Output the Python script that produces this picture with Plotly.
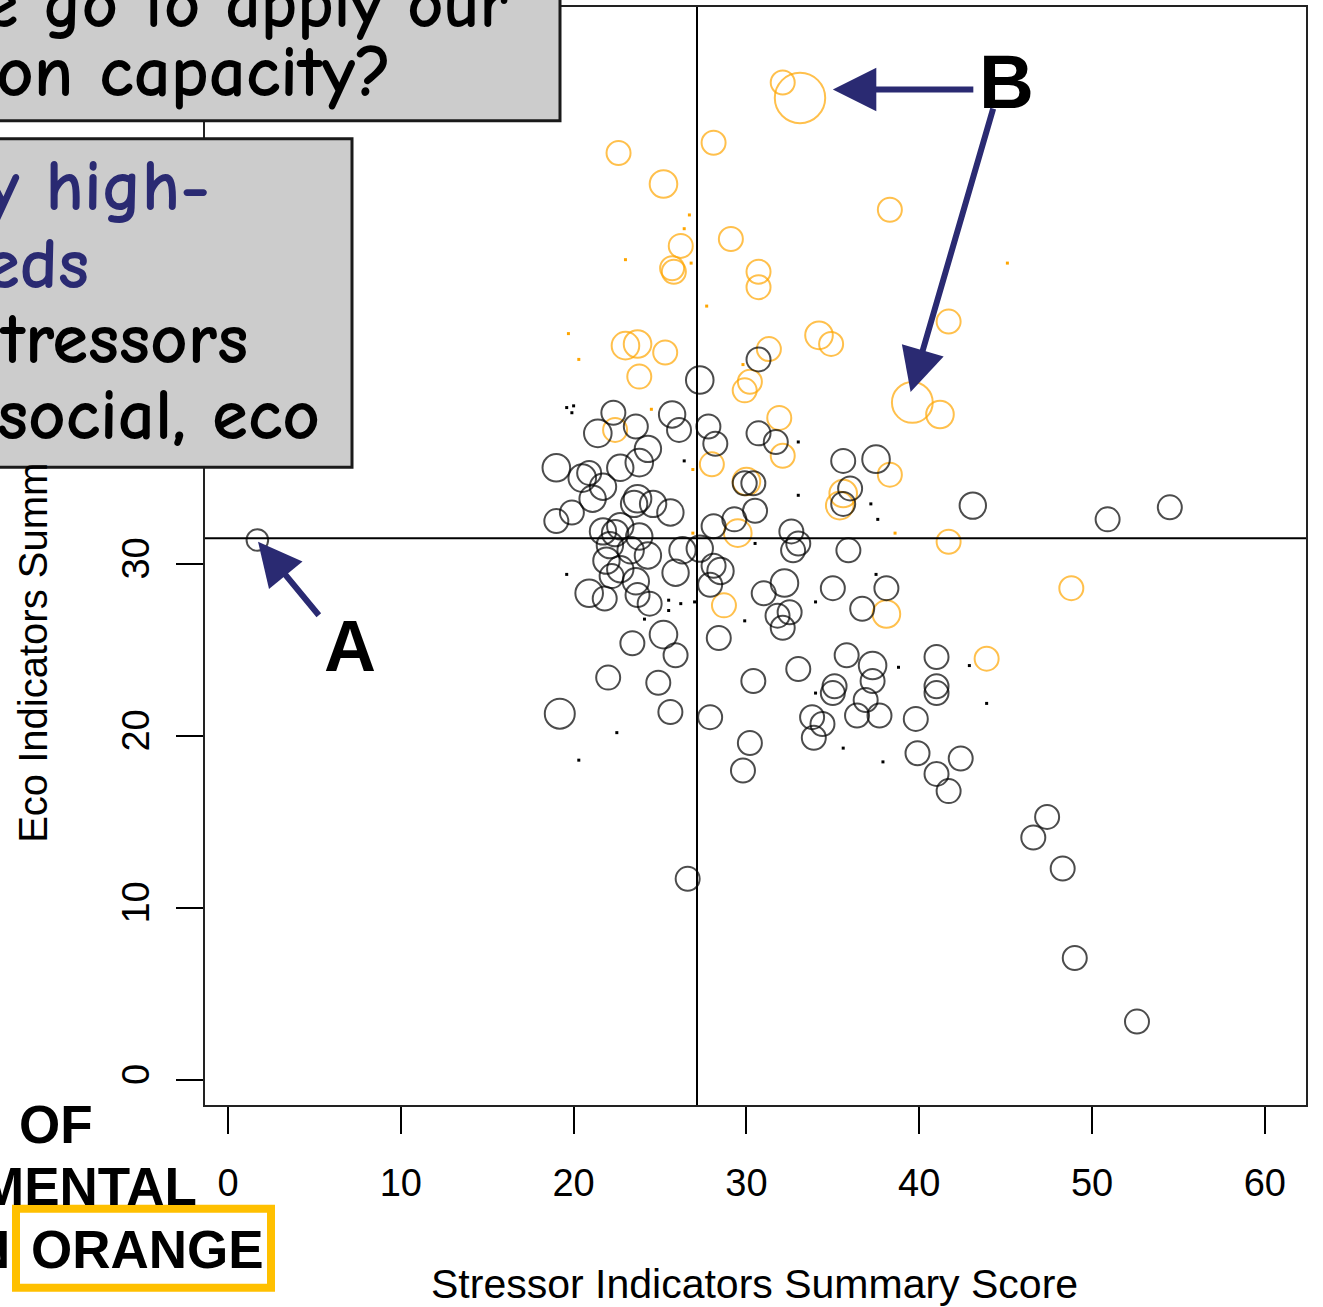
import plotly.graph_objects as go

# ---------------- data ----------------
orange_x = [32.1, 33.1, 22.6, 28.1, 25.2, 38.3, 29.1, 26.2, 25.7, 25.8, 30.7, 30.7,
            23.0, 23.7, 25.3, 23.8, 34.2, 34.9, 31.3, 41.7, 30.2, 29.9, 39.6, 41.2,
            31.9, 22.4, 32.1, 28.0, 38.3, 30.0, 35.6, 35.4, 29.5, 41.7, 28.7, 38.1,
            48.8, 43.9]
orange_y = [58.0, 57.1, 53.9, 54.5, 52.1, 50.6, 48.9, 48.5, 47.2, 47.0, 47.0, 46.1,
            42.7, 42.8, 42.3, 40.9, 43.3, 42.8, 42.5, 44.1, 40.6, 40.1, 39.4, 38.7,
            38.5, 37.8, 36.3, 35.8, 35.2, 34.8, 34.1, 33.4, 31.8, 31.3, 27.6, 27.1,
            28.6, 24.5]
orange_w = [1.0, 2.1, 1.0, 1.0, 1.15, 1.0, 1.0, 1.0, 1.0, 1.0, 1.0, 1.0,
            1.15, 1.15, 1.0, 1.0, 1.15, 1.0, 1.0, 1.0, 1.0, 1.0, 1.7, 1.15,
            1.0, 1.0, 1.0, 1.0, 1.0, 1.15, 1.15, 1.15, 1.15, 1.0, 1.0, 1.15,
            1.0, 1.0]

orange_dot_x = [19.7, 20.3, 23.0, 26.8, 27.7, 26.7, 26.4, 45.1, 24.5, 29.8, 26.9, 38.6, 26.9]
orange_dot_y = [43.4, 41.9, 47.7, 47.5, 45.0, 50.3, 49.5, 47.5, 39.0, 41.6, 35.5, 31.8, 31.8]

black_x = [1.7, 27.3, 30.7, 22.3, 21.4, 23.6, 25.7, 26.1, 24.3, 23.8, 22.7, 19.0,
           20.5, 20.9, 21.7, 21.1, 23.5, 23.7, 24.6, 25.6, 19.9, 19.0, 21.7, 22.4,
           22.7, 23.8, 22.1, 23.3, 21.9, 24.3, 22.7, 22.2, 23.6, 20.9, 21.8, 23.7,
           24.4, 25.9, 26.3, 27.3, 28.1, 27.8, 28.2, 30.7, 31.7, 29.9, 30.4, 30.5,
           29.3, 32.6, 33.0, 32.7, 28.5, 27.9, 28.1, 32.2, 31.0, 32.5, 31.8, 32.1,
           35.9, 35.0, 36.7, 38.1, 35.6, 37.5, 36.0, 35.6, 43.1, 50.9, 54.5, 25.2,
           25.9, 23.4, 28.4, 22.0, 24.9, 19.2, 25.6, 27.9, 30.4, 33.0, 30.2, 29.8,
           35.8, 37.3, 37.3, 35.1, 35.0, 36.9, 36.4, 37.7, 33.8, 34.4, 33.9, 41.0,
           41.0, 41.0, 39.8, 39.9, 42.4, 41.0, 41.7, 47.4, 46.6, 48.3, 49.0, 52.6,
           26.6]
black_y = [31.4, 40.7, 41.9, 38.8, 37.6, 38.0, 38.7, 37.8, 36.7, 35.9, 35.6, 35.6,
           35.0, 35.3, 34.5, 33.8, 33.5, 33.8, 33.5, 33.0, 33.0, 32.5, 31.9, 31.8,
           32.2, 31.6, 31.1, 30.8, 30.2, 30.5, 29.7, 29.3, 29.0, 28.3, 28.0, 28.2,
           27.7, 29.5, 30.8, 30.9, 32.2, 38.0, 37.0, 37.6, 37.1, 34.7, 34.7, 33.1,
           32.6, 31.9, 31.2, 30.8, 29.6, 28.8, 29.9, 28.9, 28.3, 27.2, 27.0, 26.3,
           30.8, 28.6, 27.4, 28.6, 36.0, 36.1, 34.4, 33.5, 33.4, 32.6, 33.3, 25.9,
           24.7, 25.4, 25.7, 23.4, 23.1, 21.3, 21.4, 21.1, 23.2, 23.9, 19.6, 18.0,
           24.7, 24.1, 23.2, 22.9, 22.5, 22.1, 21.2, 21.2, 21.1, 20.7, 19.9, 24.6,
           22.9, 22.5, 21.0, 19.0, 18.7, 17.8, 16.8, 15.3, 14.1, 12.3, 7.1, 3.4,
           11.7]
black_w = [0.9, 1.15, 1.0, 1.0, 1.15, 1.0, 1.1, 1.0, 1.1, 1.15, 1.1, 1.15,
           1.15, 1.0, 1.1, 1.1, 1.1, 1.15, 1.1, 1.1, 1.0, 1.0, 1.1, 1.1,
           1.1, 1.1, 1.1, 1.1, 1.1, 1.1, 1.1, 1.0, 1.1, 1.15, 1.0, 1.0,
           1.0, 1.1, 1.1, 1.1, 1.0, 1.0, 1.0, 1.0, 1.0, 1.0, 1.0, 1.0,
           1.0, 1.0, 1.0, 1.0, 1.1, 1.0, 1.0, 1.15, 1.0, 1.0, 1.0, 1.0,
           1.0, 1.0, 1.0, 1.0, 1.0, 1.15, 1.0, 1.0, 1.1, 1.0, 1.0, 1.15,
           1.0, 1.0, 1.0, 1.0, 1.0, 1.25, 1.0, 1.0, 1.0, 1.0, 1.0, 1.0,
           1.0, 1.15, 1.0, 1.0, 1.0, 1.0, 1.0, 1.0, 1.0, 1.0, 1.0, 1.0,
           1.0, 1.0, 1.0, 1.0, 1.0, 1.0, 1.0, 1.0, 1.0, 1.0, 1.0, 1.0,
           1.0]

black_dot_x = [19.6, 20.0, 19.9, 26.4, 33.0, 33.0, 37.2, 37.6, 30.5, 19.6, 25.5, 26.2,
               27.0, 25.5, 24.1, 29.9, 34.0, 37.5, 38.8, 42.9, 43.9, 22.5, 20.3, 35.6,
               37.9, 34.0]
black_dot_y = [39.1, 39.2, 38.8, 36.0, 37.1, 34.0, 33.5, 32.6, 31.2, 29.4, 27.9, 27.7,
               27.8, 27.3, 26.8, 26.7, 27.8, 29.4, 24.0, 24.1, 21.9, 20.2, 18.6, 19.3,
               18.5, 22.5]

x_mean = 27.14
y_mean = 31.5

x_ticks = [0, 10, 20, 30, 40, 50, 60]
y_ticks = [0, 10, 20, 30, 40, 50, 60]

x_title = "Stressor Indicators Summary Score"
y_title_visible = "Eco Indicators Summ"

# ---------------- layout helpers ----------------
W, H = 1323, 1307
ML, MR, MT, MB = 205, 17, 5, 202
PW, PH = W - ML - MR, H - MT - MB


def px(x):
    return (x - ML) / PW


def py(y):
    return (H - MB - y) / PH


BASE = 24
NAVY = "#2a2a72"
ORANGE = "#FFA500"
SANS = "Liberation Sans, Arial"
COMIC = "Comic Sans MS, Comic Neue, Lato, Noto Sans"

fig = go.Figure()

fig.add_trace(go.Scatter(
    x=orange_x, y=orange_y, mode="markers",
    marker=dict(symbol="circle-open", size=[BASE * w for w in orange_w],
                color=ORANGE, line=dict(width=2, color=ORANGE)),
    hoverinfo="skip"))
fig.add_trace(go.Scatter(
    x=orange_dot_x, y=orange_dot_y, mode="markers",
    marker=dict(symbol="square", size=3, color=ORANGE), hoverinfo="skip"))
fig.add_trace(go.Scatter(
    x=black_x, y=black_y, mode="markers",
    marker=dict(symbol="circle-open", size=[BASE * w for w in black_w],
                color="black", line=dict(width=2, color="black")),
    hoverinfo="skip"))
fig.add_trace(go.Scatter(
    x=black_dot_x, y=black_dot_y, mode="markers",
    marker=dict(symbol="square", size=3, color="black"), hoverinfo="skip"))

shapes = [
    dict(type="line", xref="x", yref="paper", x0=x_mean, x1=x_mean, y0=0, y1=1,
         line=dict(color="black", width=2)),
    dict(type="line", xref="paper", yref="y", x0=0, x1=1, y0=y_mean, y1=y_mean,
         line=dict(color="black", width=2)),
    # grey overlay boxes
    dict(type="rect", xref="paper", yref="paper", layer="above",
         x0=px(-10), x1=px(560), y0=py(119), y1=py(-10),
         fillcolor="#cccccc", line=dict(color="#1a1a1a", width=3)),
    dict(type="rect", xref="paper", yref="paper", layer="above",
         x0=px(-10), x1=px(352), y0=py(466), y1=py(137),
         fillcolor="#cccccc", line=dict(color="#1a1a1a", width=3)),
    # yellow frame
    dict(type="rect", xref="paper", yref="paper", layer="above",
         x0=px(16), x1=px(271), y0=py(1288), y1=py(1209),
         fillcolor="rgba(0,0,0,0)", line=dict(color="#FFC000", width=8)),
]

ann = []


def txt(t, x, y, size, color="black", family=COMIC, xanchor="left", bold=False, angle=0):
    ann.append(dict(text=("<b>%s</b>" % t) if bold else t, xref="paper", yref="paper",
                    x=px(x), y=py(y), xanchor=xanchor, yanchor="middle",
                    showarrow=False, textangle=angle,
                    font=dict(family=family, size=size, color=color)))


# box texts
txt("e go to apply our", -18, 2, 70, bold=True)
txt("on capacity?", -6, 70, 73, bold=True)
txt("y high-", -16, 184, 73, color=NAVY, bold=True)
txt("eds", -18, 262, 73, color=NAVY, bold=True)
txt("tressors", -3, 338, 73, bold=True)
txt("social, eco", -5, 414, 73, bold=True)

# bottom left words
txt("OF", 17, 1125, 53, family=SANS, bold=True)
txt("MENTAL", 199, 1187, 53, family=SANS, bold=True, xanchor="right")
txt("N", 12, 1250, 53, family=SANS, bold=True, xanchor="right")
txt("ORANGE", 29, 1250, 53, family=SANS, bold=True)

# axis titles
txt(x_title, 754, 1284, 41, family=SANS, xanchor="center")
ann.append(dict(text=y_title_visible, xref="paper", yref="paper",
                x=px(33), y=py(652), xanchor="center", yanchor="middle",
                showarrow=False, textangle=-90,
                font=dict(family=SANS, size=40, color="black")))

# labels A and B
txt("A", 350, 645, 72, family=SANS, xanchor="center", bold=True)
txt("B", 1006, 80, 76, family=SANS, xanchor="center", bold=True)

# arrows
for (hx, hy, ax, ay) in [(1.74, 31.3, 62, 75), (35.0, 57.6, 142, 0), (39.5, 40.0, 83, -285)]:
    ann.append(dict(x=hx, y=hy, xref="x", yref="y", ax=ax, ay=ay, text="",
                    showarrow=True, arrowhead=2, arrowsize=1.45, arrowwidth=6,
                    arrowcolor=NAVY, standoff=0))

fig.update_layout(
    width=W, height=H,
    margin=dict(l=ML, r=MR, t=MT, b=MB),
    paper_bgcolor="white", plot_bgcolor="white",
    showlegend=False,
    shapes=shapes, annotations=ann,
    xaxis=dict(range=[-1.33, 62.38], tickvals=x_ticks, ticks="outside", ticklen=27,
               tickwidth=1.5, tickcolor="black", showgrid=False, zeroline=False,
               showline=True, mirror=True, linecolor="#222222", linewidth=2,
               tickfont=dict(family=SANS, size=38, color="black"),
               ticklabelstandoff=16),
    yaxis=dict(range=[-1.45, 62.39], tickvals=y_ticks, ticks="outside", ticklen=27,
               tickwidth=1.5, tickcolor="black", showgrid=False, zeroline=False,
               showline=True, mirror=True, linecolor="#222222", linewidth=2,
               tickangle=-90,
               tickfont=dict(family=SANS, size=38, color="black"),
               ticklabelstandoff=12),
)

fig.write_html("out.html")
